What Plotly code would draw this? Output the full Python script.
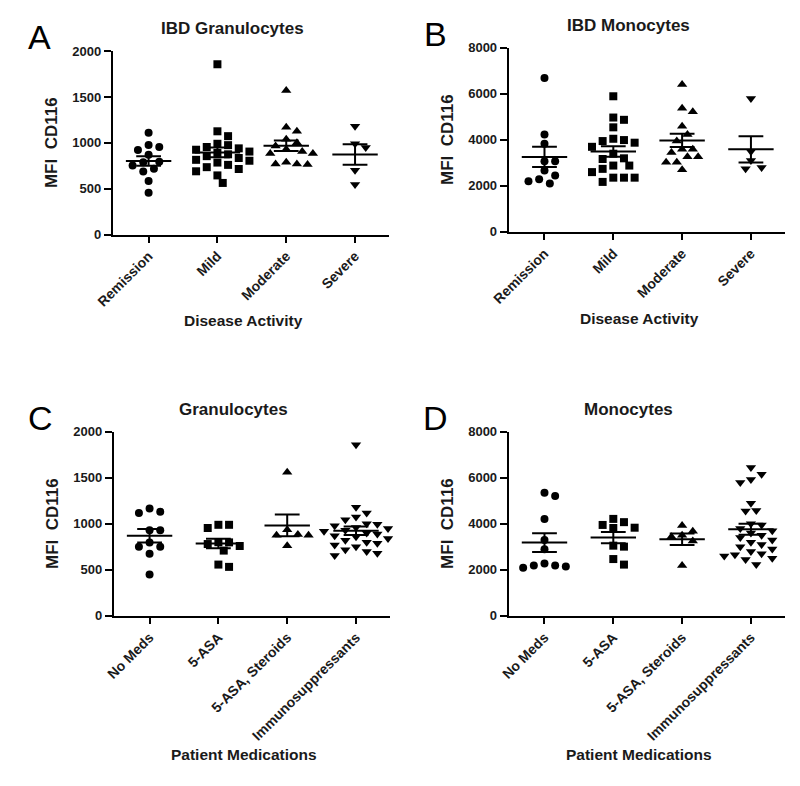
import plotly.graph_objects as go
import numpy as np

# ---------------- data ----------------
activity_labels = ["Remission", "Mild", "Moderate", "Severe"]
meds_labels = ["No Meds", "5-ASA", "5-ASA, Steroids", "Immunosuppressants"]

gran_remission = [1109, 977, 955, 923, 870, 795, 788, 752, 717, 688, 585, 456]
gran_mild = [1857, 1126, 1073, 990, 975, 955, 940, 925, 905, 890, 875, 855, 835, 815,
             805, 785, 760, 735, 715, 690, 645, 563]
gran_moderate = [1572, 1169, 1126, 1040, 1000, 966, 930, 906, 884, 884, 788, 770, 770, 763]
gran_severe = [1180, 990, 950, 700, 545]

mono_remission = [6693, 4234, 3837, 3069, 3069, 2671, 2458, 2288, 2202, 2103]
mono_mild = [5897, 4973, 4874, 4547, 4050, 3993, 3950, 3879, 3700, 3400, 3200, 3169, 2885,
             2885, 2742, 2600, 2359, 2359, 2359, 2174]
mono_moderate = [6409, 5373, 5228, 4589, 4234, 3949, 3595, 3595, 3454, 3267, 3267, 3028, 3028, 2699]
mono_severe = [5800, 3500, 3100, 2800, 2750]

gran_nomeds = [1167, 1131, 1117, 929, 929, 798, 752, 752, 674, 450]
gran_5asa = [989, 989, 954, 800, 798, 780, 759, 709, 557, 532]
gran_5asa_ster = [1560, 936, 883, 876, 876, 762]
gran_immuno = [1860, 1180, 1116, 1073, 1045, 1000, 995, 980, 960, 950, 930, 920, 900, 890,
               870, 860, 840, 820, 800, 790, 770, 750, 718, 700, 680, 655]

mono_nomeds = [5348, 5206, 4213, 3291, 2894, 2270, 2184, 2184, 2150, 2085]
mono_5asa = [4213, 4071, 3950, 3830, 3816, 3050, 3007, 2468, 2227]
mono_5asa_ster = [3929, 3674, 3504, 3433, 3248, 2184]
mono_immuno = [6450, 6150, 5930, 5790, 4890, 4580, 4560, 4000, 3950, 3800, 3700, 3600, 3500,
               3400, 3300, 3200, 3100, 3000, 2900, 2800, 2700, 2650, 2600, 2500, 2450, 2230]

panel_titles = ["IBD Granulocytes", "IBD Monocytes", "Granulocytes", "Monocytes"]
panel_letters = ["A", "B", "C", "D"]
xaxis_titles = ["Disease Activity", "Disease Activity", "Patient Medications", "Patient Medications"]
y_title = "MFI\u00a0 CD116"
gran_ticks = [0, 500, 1000, 1500, 2000]
mono_ticks = [0, 2000, 4000, 6000, 8000]

# ---------------- layout geometry ----------------
W, H = 800, 786
FONT = "Liberation Sans, Arial, sans-serif"
TXT = "#1a1a1a"
symbols = ["circle", "square", "triangle-up", "triangle-down"]

panels = [
    dict(groups=[gran_remission, gran_mild, gran_moderate, gran_severe], labels=activity_labels,
         ymax=2000, ticks=gran_ticks, x0=97, x1=380, ytop=45, ybot=232),
    dict(groups=[mono_remission, mono_mild, mono_moderate, mono_severe], labels=activity_labels,
         ymax=8000, ticks=mono_ticks, x0=502, x1=785, ytop=41.7, ybot=229.3),
    dict(groups=[gran_nomeds, gran_5asa, gran_5asa_ster, gran_immuno], labels=meds_labels,
         ymax=2000, ticks=gran_ticks, x0=98, x1=381, ytop=433, ybot=620.7),
    dict(groups=[mono_nomeds, mono_5asa, mono_5asa_ster, mono_immuno], labels=meds_labels,
         ymax=8000, ticks=mono_ticks, x0=502, x1=785, ytop=433, ybot=620.7),
]
XR = [-0.52, 3.5]


def swarm(values, ppx, ppy, d=9.0, step=0.155):
    cands = sorted([i * step / 2 for i in range(-14, 15)], key=lambda c: (abs(c), -c))
    order = np.argsort(values)[::-1]
    placed = []
    offs = [0.0] * len(values)
    for i in order:
        v = values[i]
        for c in cands:
            if all(((c - pc) * ppx) ** 2 + ((v - pv) * ppy) ** 2 >= d * d for pc, pv in placed):
                offs[i] = c
                placed.append((c, v))
                break
    return offs


fig = go.Figure()
layout = dict(width=W, height=H, margin=dict(l=0, r=0, t=0, b=0), showlegend=False,
              plot_bgcolor="white", paper_bgcolor="white", annotations=[])

for pi, p in enumerate(panels):
    n = pi + 1
    xa = "x" if n == 1 else f"x{n}"
    ya = "y" if n == 1 else f"y{n}"
    ppx = (p["x1"] - p["x0"]) / (XR[1] - XR[0])
    ppy = (p["ybot"] - p["ytop"]) / p["ymax"]
    for gi, vals in enumerate(p["groups"]):
        offs = swarm(vals, ppx, ppy)
        fig.add_trace(go.Scatter(
            x=[gi + o for o in offs], y=vals, mode="markers", xaxis=xa, yaxis=ya,
            marker=dict(symbol=symbols[gi], size=8 if gi < 2 else 9, color="black",
                        line=dict(width=0)),
            hoverinfo="y", cliponaxis=False))
        arr = np.array(vals, dtype=float)
        m = arr.mean()
        sem = arr.std(ddof=1) / np.sqrt(len(arr))
        lx = [gi - 0.33, gi + 0.33, None, gi - 0.18, gi + 0.18, None,
              gi - 0.18, gi + 0.18, None, gi, gi]
        ly = [m, m, None, m + sem, m + sem, None, m - sem, m - sem, None, m - sem, m + sem]
        fig.add_trace(go.Scatter(x=lx, y=ly, mode="lines", xaxis=xa, yaxis=ya,
                                 line=dict(color="black", width=2), hoverinfo="skip"))

    key_x = "xaxis" if n == 1 else f"xaxis{n}"
    key_y = "yaxis" if n == 1 else f"yaxis{n}"
    layout[key_x] = dict(
        domain=[p["x0"] / W, p["x1"] / W], anchor=ya, range=XR,
        tickmode="array", tickvals=[0, 1, 2, 3], ticktext=p["labels"], tickangle=-45,
        showline=True, linecolor="black", linewidth=2, ticks="outside", ticklen=6,
        tickwidth=2, tickcolor="black", showgrid=False, zeroline=False,
        tickfont=dict(family=FONT, size=14, color=TXT, weight="bold"), fixedrange=True)
    layout[key_y] = dict(
        domain=[1 - p["ybot"] / H, 1 - p["ytop"] / H], anchor=xa, range=[0, p["ymax"]],
        tickmode="array", tickvals=p["ticks"], ticktext=[str(t) for t in p["ticks"]],
        showline=True, linecolor="black", linewidth=2, ticks="outside", ticklen=7,
        tickwidth=2, tickcolor="black", showgrid=False, zeroline=False,
        tickfont=dict(family=FONT, size=13, color=TXT, weight="bold"), fixedrange=True)

    cx = (p["x0"] + p["x1"]) / 2
    ann = layout["annotations"]
    ann.append(dict(text=panel_titles[pi], x=(cx - 19) / W, y=1 - (p["ytop"] - 23) / H,
                    xref="paper", yref="paper", showarrow=False, xanchor="center", yanchor="middle",
                    font=dict(family=FONT, size=17, color=TXT, weight="bold")))
    ann.append(dict(text=panel_letters[pi], x=(p["x0"] - 75) / W, y=1 - (p["ytop"] - 14) / H,
                    xref="paper", yref="paper", showarrow=False, xanchor="center", yanchor="middle",
                    font=dict(family=FONT, size=34, color="black")))
    ann.append(dict(text=y_title, x=(p["x0"] - 62) / W, y=1 - ((p["ytop"] + p["ybot"]) / 2) / H,
                    xref="paper", yref="paper", showarrow=False, textangle=-90,
                    xanchor="center", yanchor="middle",
                    font=dict(family=FONT, size=17, color=TXT, weight="bold")))
    xt_y = p["ybot"] + (88 if pi < 2 else 141)
    ann.append(dict(text=xaxis_titles[pi], x=(cx - 8) / W, y=1 - xt_y / H,
                    xref="paper", yref="paper", showarrow=False, xanchor="center", yanchor="middle",
                    font=dict(family=FONT, size=15.5, color=TXT, weight="bold")))

fig.update_layout(**layout)
fig.write_html("out.html", config={"displayModeBar": False})

# remove the default page margin so the figure sits at the window origin
with open("out.html", "r", encoding="utf-8") as f:
    html = f.read()
html = html.replace("<head>", "<head><style>html,body{margin:0;padding:0;overflow:hidden;}</style>", 1)
with open("out.html", "w", encoding="utf-8") as f:
    f.write(html)
